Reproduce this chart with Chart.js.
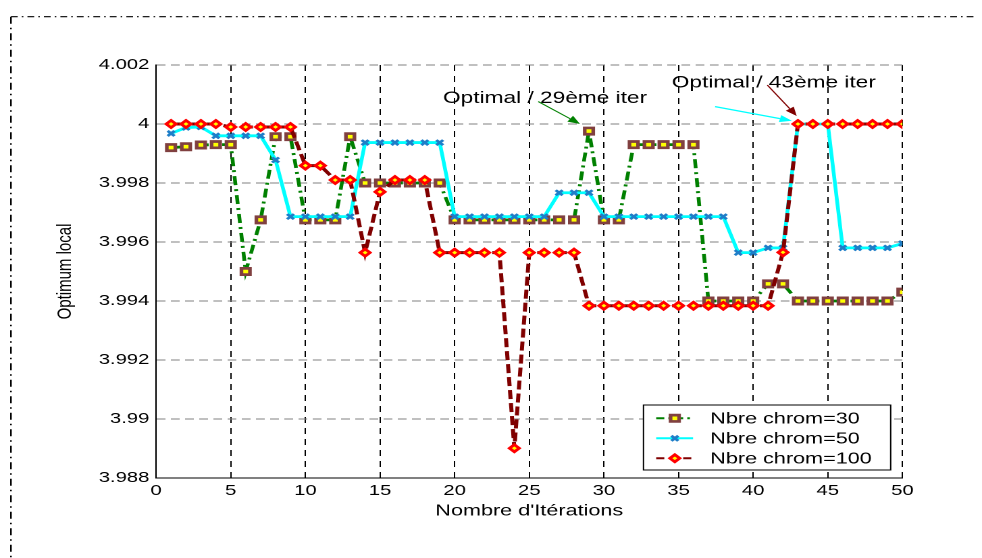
<!DOCTYPE html>
<html><head><meta charset="utf-8">
<script src="https://cdn.jsdelivr.net/npm/chart.js@4/dist/chart.umd.min.js"></script>
<style>
html,body{margin:0;padding:0;background:#fff;overflow:hidden;width:982px;height:558px;}
#wrap{position:absolute;left:0;top:0;width:727px;height:558px;transform:scaleX(1.3507);transform-origin:0 0;}
</style></head><body>
<div id="wrap"><canvas id="c"></canvas></div>
<script>
const iterations = [1,2,3,4,5,6,7,8,9,10,11,12,13,14,15,16,17,18,19,20,21,22,23,24,25,26,27,28,29,30,31,32,33,34,35,36,37,38,39,40,41,42,43,44,45,46,47,48,49,50];
const chrom30 = [3.9992,3.99923,3.99929,3.9993,3.9993,3.995,3.99675,3.99957,3.99957,3.99675,
                 3.99675,3.99675,3.99957,3.998,3.998,3.998,3.998,3.998,3.998,3.99675,
                 3.99675,3.99675,3.99675,3.99675,3.99675,3.99675,3.99675,3.99675,3.99976,3.99675,
                 3.99675,3.9993,3.9993,3.9993,3.9993,3.9993,3.994,3.994,3.994,3.994,
                 3.99458,3.99458,3.994,3.994,3.994,3.994,3.994,3.994,3.994,3.9943];
const chrom50 = [3.99968,3.99988,3.9999,3.9996,3.9996,3.9996,3.9996,3.99878,3.99686,3.99686,
                 3.99686,3.99686,3.99686,3.99937,3.99937,3.99937,3.99937,3.99937,3.99937,3.99686,
                 3.99686,3.99686,3.99686,3.99686,3.99686,3.99686,3.99767,3.99767,3.99767,3.99686,
                 3.99686,3.99686,3.99686,3.99686,3.99686,3.99686,3.99686,3.99686,3.99564,3.99564,
                 3.9958,3.9958,4.0,4.0,4.0,3.9958,3.9958,3.9958,3.9958,3.99595];
const chrom100 = [4.0,4.0,4.0,4.0,3.9999,3.9999,3.9999,3.9999,3.9999,3.99859,
                  3.99859,3.9981,3.9981,3.99564,3.9977,3.9981,3.9981,3.9981,3.99564,3.99564,
                  3.99564,3.99564,3.99564,3.98901,3.99564,3.99564,3.99564,3.99564,3.99384,3.99384,
                  3.99384,3.99384,3.99384,3.99384,3.99384,3.99384,3.99384,3.99384,3.99384,3.99384,
                  3.99384,3.99565,4.0,4.0,4.0,4.0,4.0,4.0,4.0,4.0];
const seriesNames = ['Nbre chrom=30','Nbre chrom=50','Nbre chrom=100'];
const xTicks = [0,5,10,15,20,25,30,35,40,45,50];
const yTicks = [3.988,3.99,3.992,3.994,3.996,3.998,4,4.002];
const xTitle = "Nombre d'Itérations";
const yTitle = "Optimum local";
const noteTexts = ['Optimal / 29ème iter','Optimal / 43ème iter'];

const FONT = '"Liberation Sans", Arial, Helvetica, sans-serif';

// annotation placement in data coordinates
const noteAnchors = [[19.22,4.00071],[34.55,4.00124]];
const noteArrows = [
  {from:[25.6,4.00076], to:[28.4,4.0], color:'#008000', w:1},
  {from:[40.95,4.00132], to:[42.92,4.00027], color:'#800000', w:1},
  {from:[37.45,4.00059], to:[42.59,4.00011], color:'#00ffff', w:1.3}
];

function pts(vals){ return iterations.map((x,i)=>({x:x,y:vals[i]})); }

function drawMarker(ctx, ds, x, y){
  ctx.save();
  ctx.setLineDash([]);
  ctx.lineWidth = ds.pointBorderWidth;
  ctx.strokeStyle = ds.pointBorderColor;
  ctx.fillStyle = ds.pointBackgroundColor;
  const r = ds.pointRadius;
  ctx.beginPath();
  if (ds.pointStyle === 'rect') {
    const s = r*Math.SQRT1_2;
    ctx.rect(x-s,y-s,2*s,2*s); ctx.fill(); ctx.stroke();
  } else if (ds.pointStyle === 'rectRot') {
    ctx.moveTo(x-r,y); ctx.lineTo(x,y-r); ctx.lineTo(x+r,y); ctx.lineTo(x,y+r); ctx.closePath(); ctx.fill(); ctx.stroke();
  } else {
    const s = r*Math.SQRT1_2;
    ctx.moveTo(x-s,y-s); ctx.lineTo(x+s,y+s); ctx.moveTo(x+s,y-s); ctx.lineTo(x-s,y+s); ctx.stroke();
  }
  ctx.restore();
}

const framePlugin = {
  id:'frame',
  beforeDraw(chart){
    const ctx = chart.ctx;
    ctx.save();
    ctx.strokeStyle = '#000'; ctx.lineWidth = 1.2;
    ctx.setLineDash([5,3,1.2,3]);
    ctx.beginPath(); ctx.moveTo(8.1,16.7); ctx.lineTo(722,16.7); ctx.stroke();
    ctx.setLineDash([7,4,1.5,4]);
    ctx.beginPath(); ctx.moveTo(8.1,16.7); ctx.lineTo(8.1,558); ctx.stroke();
    ctx.restore();
  }
};

const notesPlugin = {
  id:'notes',
  afterDatasetsDraw(chart){
    const ctx = chart.ctx, xs = chart.scales.x, ys = chart.scales.y;
    ctx.save();
    ctx.fillStyle = '#000'; ctx.font = '16.8px ' + FONT;
    ctx.textAlign = 'left'; ctx.textBaseline = 'alphabetic';
    noteTexts.forEach((t,i)=>{
      ctx.fillText(t, xs.getPixelForValue(noteAnchors[i][0]), ys.getPixelForValue(noteAnchors[i][1]));
    });
    noteArrows.forEach(a=>{
      const x1 = xs.getPixelForValue(a.from[0]), y1 = ys.getPixelForValue(a.from[1]);
      const x2 = xs.getPixelForValue(a.to[0]), y2 = ys.getPixelForValue(a.to[1]);
      const ang = Math.atan2(y2-y1, x2-x1);
      const hl = 9, hw = 3.6;
      const bx = x2 - hl*Math.cos(ang), by = y2 - hl*Math.sin(ang);
      ctx.strokeStyle = a.color; ctx.fillStyle = a.color; ctx.lineWidth = a.w; ctx.setLineDash([]);
      ctx.beginPath(); ctx.moveTo(x1,y1); ctx.lineTo(bx,by); ctx.stroke();
      ctx.beginPath();
      ctx.moveTo(x2,y2);
      ctx.lineTo(bx + hw*Math.sin(ang), by - hw*Math.cos(ang));
      ctx.lineTo(bx - hw*Math.sin(ang), by + hw*Math.cos(ang));
      ctx.closePath(); ctx.fill();
    });
    ctx.restore();
  }
};

const legendPlugin = {
  id:'mlegend',
  afterDraw(chart){
    const ctx = chart.ctx, a = chart.chartArea;
    const w = 183, h = 65;
    const L = a.right - 8.7 - w, T = a.bottom - 8 - h;
    ctx.save();
    ctx.fillStyle = '#fff'; ctx.fillRect(L,T,w,h);
    ctx.strokeStyle = '#000'; ctx.lineWidth = 1; ctx.setLineDash([]); ctx.strokeRect(L,T,w,h);
    chart.data.datasets.forEach((ds,i)=>{
      const y = T + 13.3 + i*20;
      ctx.save();
      ctx.strokeStyle = ds.borderColor; ctx.lineWidth = 2;
      ctx.setLineDash(ds.legendDash || []);
      ctx.beginPath(); ctx.moveTo(L+9.4,y); ctx.lineTo(L+36.7,y); ctx.stroke();
      ctx.restore();
      drawMarker(ctx, ds, L+23.2, y);
      ctx.fillStyle = '#000'; ctx.font = '16px ' + FONT;
      ctx.textAlign = 'left'; ctx.textBaseline = 'middle';
      ctx.fillText(ds.label, L+49.4, y+1);
    });
    ctx.restore();
  }
};

new Chart(document.getElementById('c'), {
  type:'line',
  data:{
    datasets:[
      {label:seriesNames[0], data:pts(chrom30), order:3,
       borderColor:'#008000', borderWidth:2.8, borderDash:[9,4,2,4], legendDash:[6,3,2,3],
       pointStyle:'rect', pointRadius:4.45, pointBorderWidth:2.7,
       pointBorderColor:'#804040', pointBackgroundColor:'#ffff00', tension:0},
      {label:seriesNames[1], data:pts(chrom50), order:2,
       borderColor:'#00ffff', borderWidth:2.8,
       pointStyle:'crossRot', pointRadius:3.6, pointBorderWidth:2.4,
       pointBorderColor:'#1e7ec8', pointBackgroundColor:'#1e7ec8', tension:0},
      {label:seriesNames[2], data:pts(chrom100), order:1,
       borderColor:'#800000', borderWidth:3, borderDash:[9,4], legendDash:[6,4],
       pointStyle:'rectRot', pointRadius:3.6, pointBorderWidth:2.5,
       pointBorderColor:'#ff0000', pointBackgroundColor:'#ffff00', tension:0}
    ]
  },
  options:{
    responsive:true, maintainAspectRatio:false, animation:false, devicePixelRatio:2,
    layout:{padding:{left:0,right:58.9,top:65,bottom:0}},
    plugins:{legend:{display:false}, tooltip:{enabled:false}},
    scales:{
      x:{type:'linear', min:0, max:50,
         afterBuildTicks:s=>{ s.ticks = xTicks.map(v=>({value:v})); },
         afterFit:s=>{ s.height = 80; },
         grid:{color:'#000', lineWidth:1, drawTicks:false},
         border:{display:true, color:'#000', width:1, dash:[6,5]},
         ticks:{color:'#000', font:{family:FONT, size:15}, padding:4, maxRotation:0, autoSkip:false},
         title:{display:true, text:xTitle, color:'#000', font:{family:FONT, size:16}, padding:{top:0,bottom:37.4}}},
      y:{type:'linear', min:3.988, max:4.002,
         afterBuildTicks:s=>{ s.ticks = yTicks.map(v=>({value:v})); },
         afterFit:s=>{ s.width = 115.6; },
         grid:{color:'#808080', lineWidth:1, drawTicks:false},
         border:{display:true, color:'#000', width:1, dash:[6.5,4]},
         ticks:{color:'#000', font:{family:FONT, size:15}, padding:5, autoSkip:false,
                callback:v=>String(Number(Number(v).toFixed(3)))},
         title:{display:true, text:yTitle, color:'#000', font:{family:FONT, size:15}, padding:{top:39.2,bottom:0}}}
    }
  },
  plugins:[framePlugin, notesPlugin, legendPlugin]
});
</script>
</body></html>
